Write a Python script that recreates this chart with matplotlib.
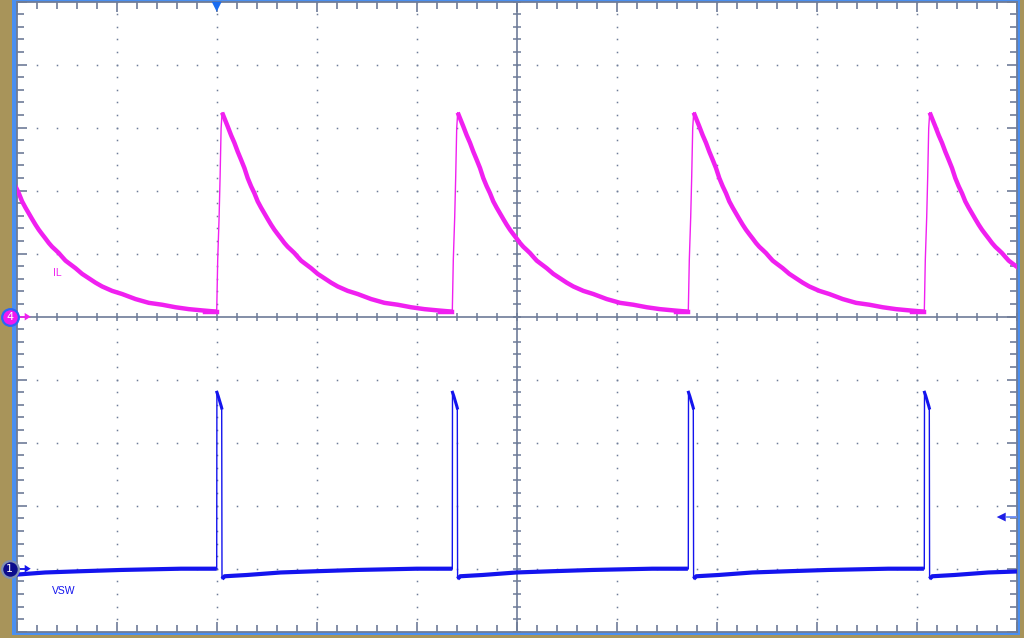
import numpy as np
import matplotlib
matplotlib.use("Agg")
import matplotlib.pyplot as plt
from matplotlib.patches import Rectangle, Polygon
from matplotlib import transforms

# switching edges (divisions from left), shared by both channels
edge_t = [-0.356, 2.0, 4.356, 6.716, 9.076]

# inductor current, one cycle after each edge (div offset, div)
il_dt = [0.0, 0.01, 0.024, 0.034, 0.044, 0.054, 0.077, 0.110, 0.144, 0.177,
         0.210, 0.244, 0.277, 0.310, 0.344, 0.377, 0.410, 0.444, 0.477, 0.510,
         0.544, 0.577, 0.610, 0.644, 0.677, 0.710, 0.744, 0.777, 0.810, 0.844,
         0.877, 0.944, 1.010, 1.077, 1.144, 1.210, 1.310, 1.410, 1.544, 1.677,
         1.810, 1.944, 2.077, 2.210, 2.356]
il_val = [0.08, 0.90, 1.58, 2.22, 2.99, 3.24, 3.15, 3.02, 2.88, 2.76,
          2.62, 2.49, 2.36, 2.20, 2.07, 1.96, 1.83, 1.73, 1.64, 1.55,
          1.46, 1.38, 1.31, 1.24, 1.17, 1.11, 1.06, 1.01, 0.95, 0.89,
          0.85, 0.77, 0.68, 0.61, 0.54, 0.48, 0.41, 0.36, 0.28, 0.22,
          0.19, 0.15, 0.12, 0.10, 0.08]

# switch node voltage, one cycle after each edge (div above ch1 ground)
vsw_dt = [0.0, 0.002, 0.015, 0.03, 0.045, 0.05, 0.053, 0.08, 0.30, 0.64,
          1.0, 1.4, 2.0, 2.356]
vsw_val = [0.0, 2.80, 2.74, 2.66, 2.58, 2.55, -0.16, -0.12, -0.10, -0.06,
           -0.04, -0.02, 0.0, 0.0]

il_pos = 0.0    # ch4 reference level
vsw_pos = -4.0  # ch1 ground level
trig_level = -3.18

tan = "#a8945a"
frame_blue = "#4a8ff0"
grat = "#6e7c98"
il_col = "#f020f0"
vsw_col = "#1414ee"

fig = plt.figure(figsize=(10.24, 6.38), dpi=100, facecolor=tan)
W, H = 1024, 638
frame = Rectangle((12 / W, 3 / H), 1008 / W, 1, transform=fig.transFigure,
                  facecolor=frame_blue, edgecolor="none")
frame.set_zorder(-5)
fig.patches.append(frame)
ax = fig.add_axes([16.7 / W, 6.3 / H, 1000 / W, 630 / H], facecolor="white")
ax.set_zorder(1)
ax.set_xlim(0, 10)
ax.set_ylim(-5, 5)

for s in ax.spines.values():
    s.set_color(grat)
    s.set_linewidth(1.3)
ax.set_xticks(np.arange(0, 11, 1))
ax.set_yticks(np.arange(-5, 6, 1))
ax.set_xticks(np.arange(0, 10.01, 0.2), minor=True)
ax.set_yticks(np.arange(-5, 5.01, 0.2), minor=True)
ax.tick_params(which="both", direction="in", top=True, right=True,
               labelbottom=False, labelleft=False, color=grat, width=1.2)
ax.tick_params(which="major", length=7.5)
ax.tick_params(which="minor", length=5)

# dotted graticule
xs_minor = np.arange(0, 10.01, 0.2)
ys_minor = np.arange(-5, 5.01, 0.2)
for xv in range(1, 10):
    if xv != 5:
        ax.plot([xv] * len(ys_minor), ys_minor, ls="none", marker="s", ms=1.1,
                color=grat, mew=0, zorder=1)
for yv in range(-4, 5):
    if yv != 0:
        ax.plot(xs_minor, [yv] * len(xs_minor), ls="none", marker="s", ms=1.1,
                color=grat, mew=0, zorder=1)

# centre cross with ticks
ax.axhline(0, color=grat, lw=1.2, zorder=1)
ax.axvline(5, color=grat, lw=1.2, zorder=1)
ax.plot(xs_minor, np.zeros(len(xs_minor)), ls="none", marker="|", ms=5.5,
        color=grat, mew=1.1, zorder=1)
ax.plot(np.full(len(ys_minor), 5.0), ys_minor, ls="none", marker="_", ms=5.5,
        color=grat, mew=1.1, zorder=1)

# traces
il_dt_a = np.array(il_dt)
il_val_a = np.array(il_val)
vsw_dt_a = np.array(vsw_dt)
vsw_val_a = np.array(vsw_val)
for r in edge_t:
    t = r + il_dt_a
    y = il_pos + il_val_a
    ax.plot(t, y, color=il_col, lw=1.0, zorder=3)
    ax.plot(t[5:], y[5:], color=il_col, lw=3.2, zorder=3, solid_capstyle="butt")
    ax.plot([r - 0.12, r], [il_pos + il_val[-1]] * 2, color=il_col, lw=3.2, zorder=3)

    tv = r + vsw_dt_a
    yv = vsw_pos + vsw_val_a
    ax.plot(tv, yv, color=vsw_col, lw=1.0, zorder=3)
    ax.plot(tv[1:6], yv[1:6], color=vsw_col, lw=2.2, zorder=3)
    ax.plot(tv[6:], yv[6:], color=vsw_col, lw=3.0, zorder=3, solid_capstyle="butt")

ax.text(0.41, 0.69, "IL", color=il_col, fontsize=7.5, ha="center", va="center",
        family="Liberation Sans")
ax.text(0.47, -4.35, "VSW", color=vsw_col, fontsize=7.5, ha="center", va="center",
        family="Liberation Sans")

# channel markers on the left edge
tr = transforms.blended_transform_factory(ax.transAxes, ax.transData)
px = 1 / 1000  # one pixel in axes fraction (x)
for pos, fill, edge, label, acol in [(il_pos, "#f018f0", "#2a66f5", "4", il_col),
                                     (vsw_pos, "#0c0c8c", "#8090b0", "1", vsw_col)]:
    ax.plot([-7 * px], [pos], transform=tr, marker="o", ms=12, mfc=fill, mec=edge,
            mew=1.6, clip_on=False, zorder=6)
    ax.text(-7 * px, pos, label, transform=tr, color="white", fontsize=8,
            ha="center", va="center", clip_on=False, zorder=7)
    ax.plot([1 * px, 10 * px], [pos, pos], transform=tr, color=acol, lw=1.2, zorder=5)
    ax.add_patch(Polygon([[8 * px, pos + 0.06], [14 * px, pos], [8 * px, pos - 0.06]],
                         closed=True, transform=tr, facecolor=acol, edgecolor="none",
                         zorder=5, clip_on=False))

# trigger position (top) and trigger level (right)
trx = transforms.blended_transform_factory(ax.transData, ax.transAxes)
ax.add_patch(Polygon([[1.95, 1.0], [2.05, 1.0], [2.0, 1 - 10 / 630]], closed=True,
                     transform=trx, facecolor="#1a6cf0", edgecolor="none", zorder=6,
                     clip_on=False))
ax.plot([1 - 10 * px, 1.0], [trig_level, trig_level], transform=tr, color="#6a8cf5",
        lw=1.3, zorder=5)
ax.add_patch(Polygon([[1 - 20 * px, trig_level], [1 - 11 * px, trig_level + 0.07],
                      [1 - 11 * px, trig_level - 0.07]], closed=True, transform=tr,
                     facecolor="#1e1ee6", edgecolor="none", zorder=6))

fig.savefig("out.png", dpi=100, facecolor=tan)
